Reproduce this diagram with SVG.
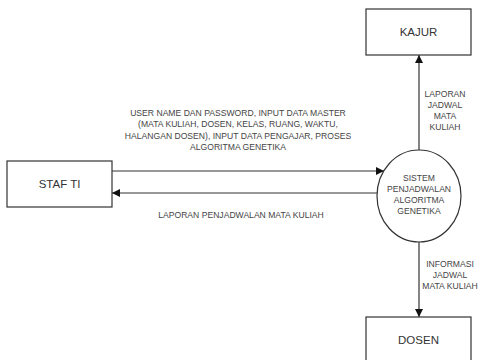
<svg xmlns="http://www.w3.org/2000/svg" width="479" height="360" viewBox="0 0 479 360">
<style>
.box{fill:#fff;stroke:#333;stroke-width:1.2}
.ent{font-family:"Liberation Sans",Arial,sans-serif;font-size:11.5px;fill:#333;text-anchor:middle}
.lbl{font-family:"Liberation Sans",Arial,sans-serif;font-size:8.6px;fill:#444;text-anchor:middle}
.con{stroke:#333;stroke-width:1.2;fill:none}
</style>
<defs>
<marker id="ah" viewBox="0 0 10 10" refX="10" refY="5" markerWidth="8" markerHeight="8" markerUnits="userSpaceOnUse" orient="auto">
<path d="M0,0 L10,5 L0,10 z" fill="#111"/>
</marker>
</defs>
<rect width="479" height="360" fill="#fff"/>
<g id="connectors">
<line class="con" x1="112" y1="171" x2="384" y2="171" marker-end="url(#ah)"/>
<line class="con" x1="377" y1="193" x2="112" y2="193" marker-end="url(#ah)"/>
<line class="con" x1="419" y1="150" x2="419" y2="55" marker-end="url(#ah)"/>
<line class="con" x1="419" y1="242" x2="419" y2="317" marker-end="url(#ah)"/>
<text class="lbl" x="238" y="116">USER NAME DAN PASSWORD, INPUT DATA MASTER</text>
<text class="lbl" x="238" y="127">(MATA KULIAH, DOSEN, KELAS, RUANG, WAKTU,</text>
<text class="lbl" x="238" y="139">HALANGAN DOSEN), INPUT DATA PENGAJAR, PROSES</text>
<text class="lbl" x="238" y="150">ALGORITMA GENETIKA</text>
<text class="lbl" x="241" y="218">LAPORAN PENJADWALAN MATA KULIAH</text>
<text class="lbl" x="445" y="97">LAPORAN</text>
<text class="lbl" x="445" y="108">JADWAL</text>
<text class="lbl" x="445" y="119">MATA</text>
<text class="lbl" x="445" y="130">KULIAH</text>
<text class="lbl" x="450" y="267">INFORMASI</text>
<text class="lbl" x="450" y="278">JADWAL</text>
<text class="lbl" x="450" y="289">MATA KULIAH</text>
</g>
<g id="staf-ti">
<rect class="box" x="7" y="161" width="105" height="46"/>
<text class="ent" x="59.5" y="188">STAF TI</text>
</g>
<g id="kajur">
<rect class="box" x="366" y="9" width="105" height="46"/>
<text class="ent" x="418.5" y="36">KAJUR</text>
</g>
<g id="dosen">
<rect class="box" x="366" y="317" width="105" height="46"/>
<text class="ent" x="418.5" y="344">DOSEN</text>
</g>
<g id="sistem">
<ellipse class="box" cx="419" cy="196" rx="42" ry="46"/>
<text class="lbl" x="419" y="181">SISTEM</text>
<text class="lbl" x="419" y="192">PENJADWALAN</text>
<text class="lbl" x="419" y="203">ALGORITMA</text>
<text class="lbl" x="419" y="214">GENETIKA</text>
</g>
</svg>
